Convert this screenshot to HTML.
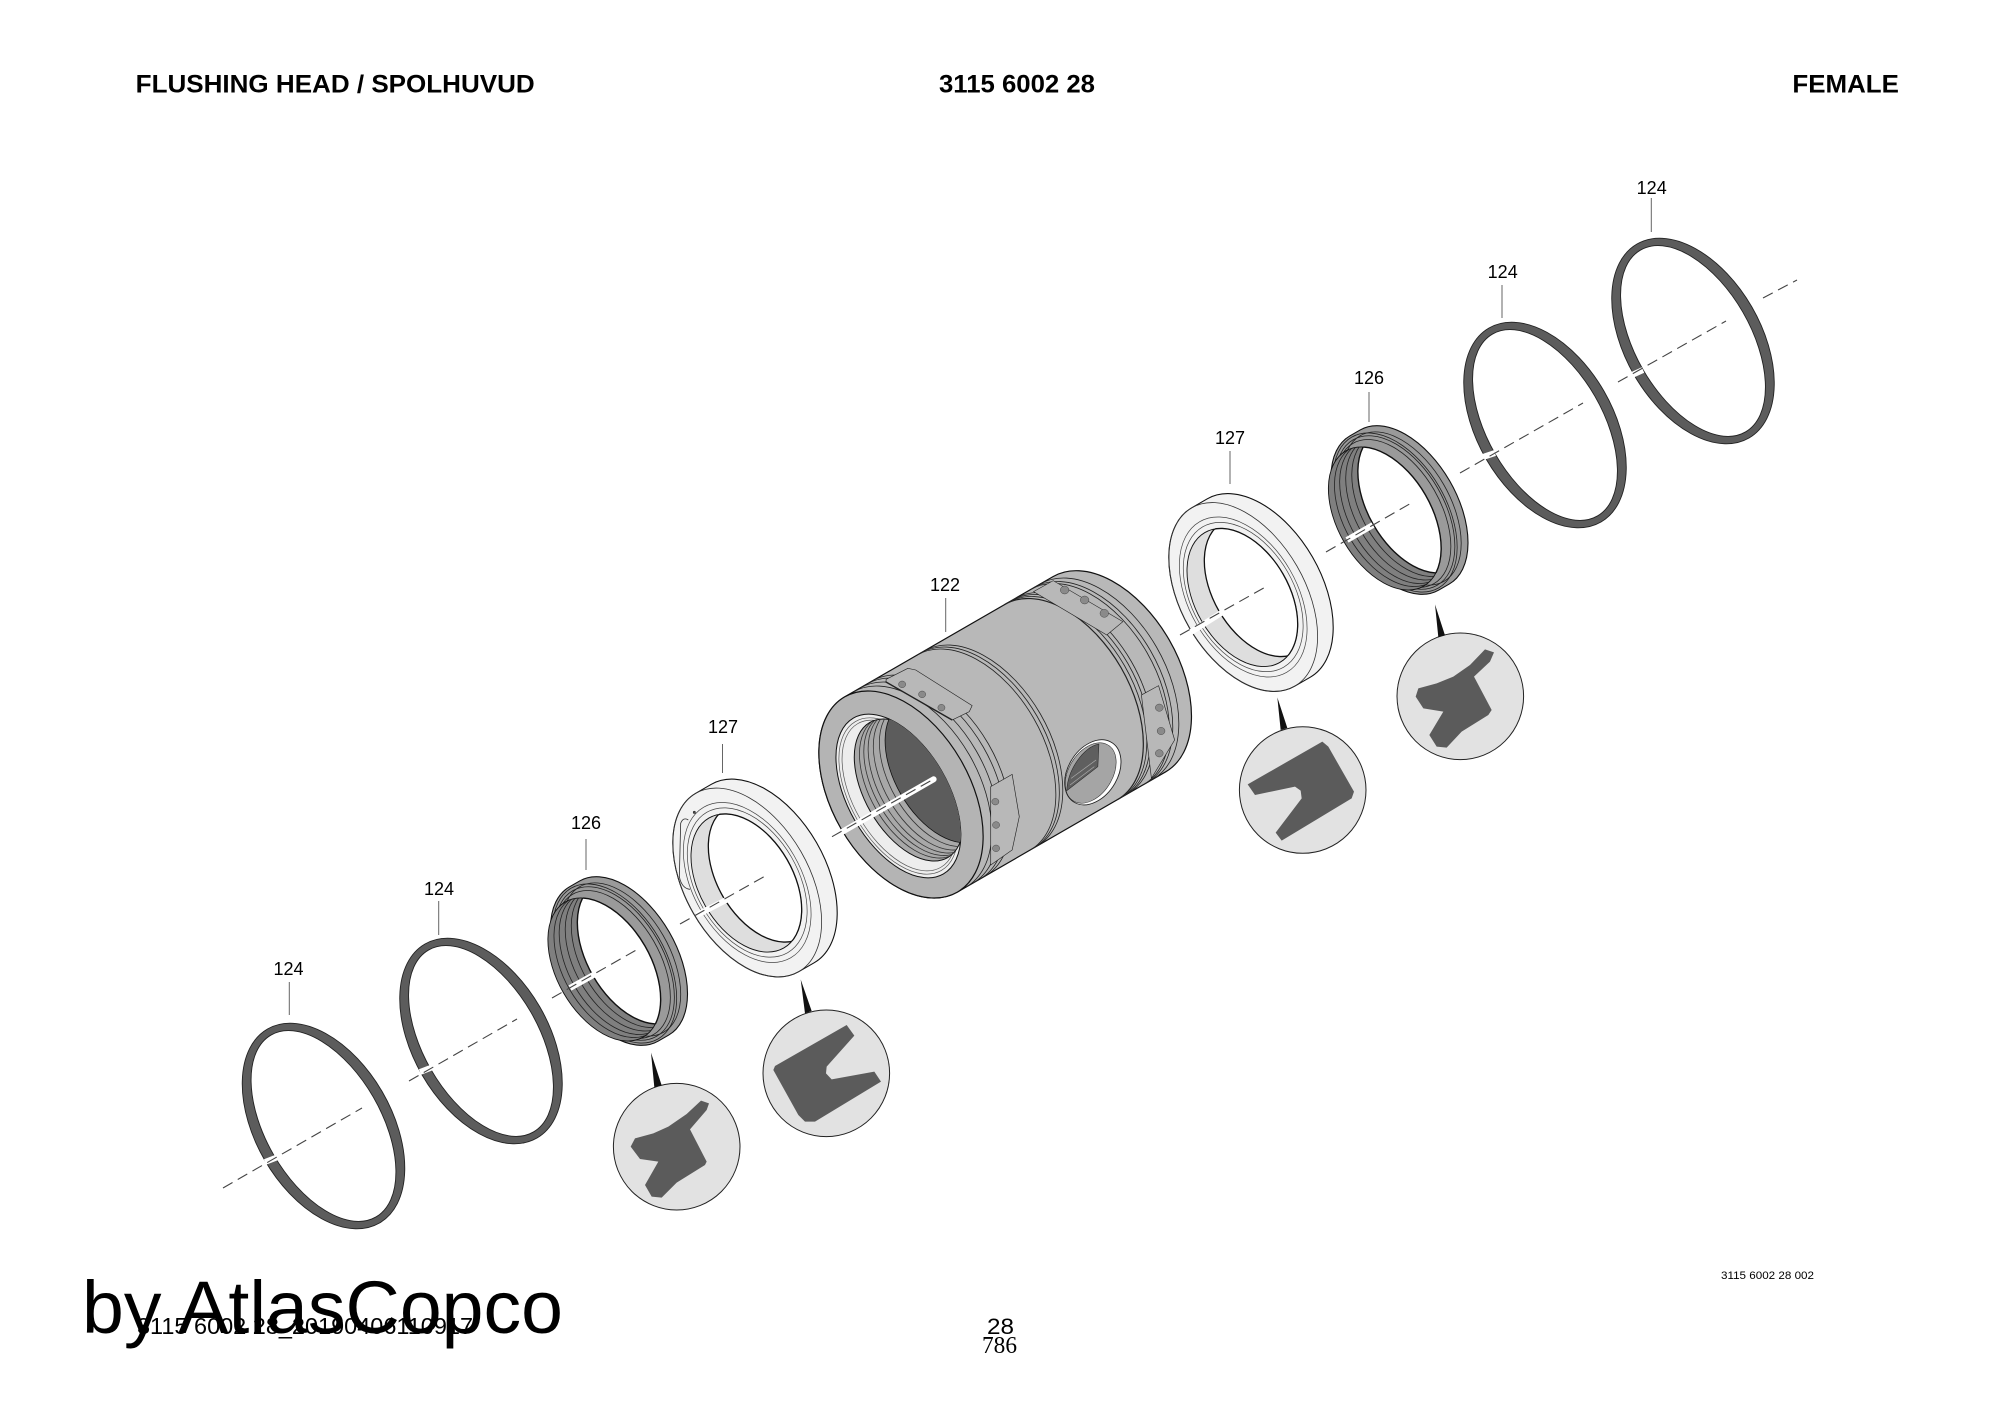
<!DOCTYPE html>
<html><head><meta charset="utf-8"><title>Flushing head</title>
<style>html,body{margin:0;padding:0;background:#fff}svg{display:block}text{font-family:"Liberation Sans",sans-serif;fill:#000}</style>
</head><body>
<svg width="2000" height="1414" viewBox="0 0 2000 1414">
<defs>
<path id="ring" fill-rule="evenodd" fill="#5c5c5c" stroke="#222" stroke-width=".9" d="M-112,0A112,68 0 1 0 112,0A112,68 0 1 0 -112,0Z M-105,0A105,57.6 0 1 0 105,0A105,57.6 0 1 0 -105,0Z"/>
<clipPath id="sf"><ellipse cy="17" rx="78" ry="47"/></clipPath>
<clipPath id="sb"><ellipse cy="-17" rx="78" ry="47"/></clipPath>
<clipPath id="tf"><ellipse cy="10" rx="75" ry="47"/></clipPath>
<clipPath id="tb"><ellipse cy="-10" rx="75" ry="47"/></clipPath>
<clipPath id="bo"><ellipse cy="3" rx="90" ry="50"/></clipPath>
<clipPath id="bi"><ellipse cy="-9" rx="78" ry="44"/></clipPath>
<g id="seal">
<path d="M-89,-6A89,52 0 0 1 89,-6L89,6A89,52 0 0 1 -89,6Z" fill="#9a9a9a" stroke="#111" stroke-width="1.1"/>
<g fill="none" stroke="#222" stroke-width=".8">
<ellipse cy="5" rx="87" ry="51"/><ellipse cy="5" rx="84" ry="49"/><ellipse cy="7" rx="81" ry="47"/>
<ellipse cy="-3" rx="84" ry="48"/>
</g>
<ellipse cy="17" rx="78" ry="47" fill="#7f7f7f" stroke="#111" stroke-width=".9"/>
<g fill="none" stroke="#222" stroke-width=".8" clip-path="url(#sf)">
<ellipse cy="10" rx="78" ry="47"/><ellipse cy="4" rx="78" ry="47"/><ellipse cy="-3" rx="78" ry="47"/><ellipse cy="-10" rx="78" ry="47"/>
</g>
<ellipse cy="-17" rx="78" ry="47" fill="#fff" stroke="#111" stroke-width="1.4" clip-path="url(#sf)"/>
<ellipse cy="17" rx="78" ry="47" fill="none" stroke="#111" stroke-width="1.4" clip-path="url(#sb)"/>
</g>
<g id="lip">
<path d="M-103,-9A103,62 0 0 1 103,-9L103,9A103,62 0 0 1 -103,9Z" fill="#f2f2f2" stroke="#111" stroke-width="1.1"/>
<ellipse cy="9" rx="103" ry="62" fill="none" stroke="#333" stroke-width=".8"/>
<ellipse cy="9" rx="87" ry="54" fill="none" stroke="#444" stroke-width=".7"/>
<ellipse cy="9" rx="81" ry="51" fill="none" stroke="#444" stroke-width=".7"/>
<ellipse cy="10" rx="75" ry="47" fill="#dedede" stroke="#111" stroke-width=".9"/>
<ellipse cy="-10" rx="75" ry="47" fill="#fff" stroke="#111" stroke-width="1.3" clip-path="url(#tf)"/>
<ellipse cy="10" rx="75" ry="47" fill="none" stroke="#111" stroke-width="1.3" clip-path="url(#tb)"/>
</g>
</defs>

<!-- rings -->
<use href="#ring" transform="translate(323.5,1126) rotate(60)"/>
<use href="#ring" transform="translate(481,1041) rotate(60)"/>
<use href="#ring" transform="translate(1545,425) rotate(60)"/>
<use href="#ring" transform="translate(1693,341) rotate(60)"/>
<!-- seals -->
<use href="#seal" transform="translate(619,961) rotate(60)"/>
<use href="#seal" transform="translate(1399.5,510) rotate(60)"/>
<use href="#lip" transform="translate(755,878) rotate(60)"/>
<use href="#lip" transform="translate(1251,592.5) rotate(60)"/>
<g transform="translate(660,760) scale(.3333)" fill="none" stroke="#333" stroke-width="2.5">
<path d="M85,180Q70,170 62,190L58,350Q65,385 90,388"/><circle cx="103" cy="157" r="3" fill="#555"/>
</g>

<!-- body 122 -->
<g transform="translate(901,794.5) rotate(60)">
<path d="M-112.7,-240.6A112.7,69 0 0 1 112.7,-240.6L112.7,0A112.7,69 0 0 1 -112.7,0Z" fill="#b8b8b8" stroke="#111" stroke-width="1.2"/>
<g fill="none" stroke="#222" stroke-width=".8">
<path d="M-112.7,-10A112.7,69 0 0 1 112.7,-10"/><path d="M-112.7,-18A112.7,69 0 0 1 112.7,-18"/>
<path d="M-112.7,-26A112.7,69 0 0 1 112.7,-26"/><path d="M-112.7,-32A112.7,69 0 0 1 112.7,-32"/>
<path d="M-112.7,-84A112.7,69 0 0 1 112.7,-84"/><path d="M-112.7,-88A112.7,69 0 0 1 112.7,-88"/><path d="M-112.7,-92A112.7,69 0 0 1 112.7,-92"/>
<path d="M-112.7,-185A112.7,69 0 0 1 112.7,-185" stroke-width="1.2"/><path d="M-112.7,-189A112.7,69 0 0 1 112.7,-189"/>
<path d="M-112.7,-193A112.7,69 0 0 1 112.7,-193"/><path d="M-112.7,-197A112.7,69 0 0 1 112.7,-197"/>
<path d="M-112.7,-215A112.7,69 0 0 1 112.7,-215"/><path d="M-112.7,-219A112.7,69 0 0 1 112.7,-219"/><path d="M-112.7,-226A112.7,69 0 0 1 112.7,-226"/>
</g>
<ellipse rx="112.7" ry="69" fill="#b4b4b4" stroke="#111" stroke-width="1.2"/>
<ellipse cy="3" rx="90" ry="50" fill="#ededed" stroke="#111" stroke-width="1"/>
<ellipse cy="3" rx="86" ry="47.5" fill="none" stroke="#555" stroke-width=".7"/>
<ellipse cy="2" rx="83" ry="45.5" fill="none" stroke="#555" stroke-width=".7"/>
<g clip-path="url(#bo)">
<ellipse cy="-9" rx="78" ry="44" fill="#a8a8a8" stroke="#111" stroke-width="1"/>
<g fill="none" stroke="#333" stroke-width=".8" clip-path="url(#bi)">
<ellipse cy="-15" rx="78" ry="44"/><ellipse cy="-20" rx="78" ry="44"/><ellipse cy="-25" rx="78" ry="44"/><ellipse cy="-31" rx="78" ry="44"/><ellipse cy="-38" rx="78" ry="44"/>
<ellipse cy="-46" rx="78" ry="46" fill="#5c5c5c" stroke="#111"/>
</g>
</g>
</g>
<g transform="translate(780,540) scale(.35714,.33333)" stroke="#222" stroke-width="2.2">
<!-- windows -->
<path d="M297,418L358,385L380,390L538,497L530,515L482,540L297,425Z" fill="#b8b8b8" stroke-width="1.8"/>
<circle cx="342" cy="433" r="10" fill="#8a8a8a" stroke-width="1"/><circle cx="398" cy="463" r="10" fill="#8a8a8a" stroke-width="1"/><circle cx="452" cy="503" r="10" fill="#8a8a8a" stroke-width="1"/>
<path d="M295,425L482,540" fill="none" stroke-width="4"/>
<path d="M710,155L765,122L960,245L915,285Z" fill="#b8b8b8" stroke-width="1.8"/>
<circle cx="797" cy="150" r="12" fill="#8a8a8a" stroke-width="1"/><circle cx="853" cy="180" r="12" fill="#8a8a8a" stroke-width="1"/><circle cx="908" cy="220" r="12" fill="#8a8a8a" stroke-width="1"/>
<path d="M1012,465L1060,437L1105,600L1040,715Z" fill="#b8b8b8" stroke-width="1.8"/>
<circle cx="1062" cy="503" r="11" fill="#8a8a8a" stroke-width="1"/><circle cx="1067" cy="573" r="11" fill="#8a8a8a" stroke-width="1"/><circle cx="1062" cy="640" r="11" fill="#8a8a8a" stroke-width="1"/>
<path d="M590,740L650,703L670,830L650,930L590,975Z" fill="#b8b8b8" stroke-width="1.8"/>
<circle cx="603" cy="785" r="10" fill="#8a8a8a" stroke-width="1"/><circle cx="605" cy="855" r="10" fill="#8a8a8a" stroke-width="1"/><circle cx="605" cy="925" r="10" fill="#8a8a8a" stroke-width="1"/>
<!-- side hole -->
<ellipse cx="876" cy="697" rx="104" ry="70" transform="rotate(-62 876 697)" fill="#fff" stroke-width="2.5"/>
<ellipse cx="870" cy="699" rx="97" ry="62" transform="rotate(-62 870 699)" fill="#a5a5a5" stroke-width="1.5"/>
<path d="M893,612C850,620 805,690 803,752L890,680Z" fill="#5f5f5f" stroke-width="1.5"/>
<path d="M815,715L885,660M812,735L880,680" fill="none" stroke="#aaa" stroke-width="2"/>
</g>

<!-- circles -->
<g fill="#e2e2e2" stroke="#222" stroke-width="1">
<circle cx="676.7" cy="1146.7" r="63.3"/><circle cx="826.3" cy="1073.3" r="63.3"/>
<circle cx="1302.7" cy="790" r="63.3"/><circle cx="1460.3" cy="696.3" r="63.3"/>
</g>
<g transform="translate(540,860) scale(.33333)" fill="#5b5b5b">
<path fill="#111" d="M333,578L343,682L365,676Z"/><path fill="#111" d="M782,358L795,460L815,453Z"/>
<path d="M483,722L507,730L500,750L450,808L500,905L495,915L410,968L365,1013L335,1010L315,975L355,905L300,897L272,860L285,835L340,820L385,800L440,762Z"/>
<path d="M920,495L943,527L860,620L858,640L875,658L1003,635L1023,665L825,785L795,785L775,765L700,630L705,618Z"/>
</g>
<g transform="translate(1160,420) scale(.33333)" fill="#5b5b5b">
<path fill="#111" d="M352,832L362,930L382,924Z"/><path fill="#111" d="M825,553L835,652L855,646Z"/>
<path d="M487,965L505,980L582,1115L575,1135L365,1262L347,1238L425,1135L422,1112L405,1100L285,1125L263,1093Z"/>
<path d="M975,688L1002,697L990,725L942,770L995,870L985,885L905,935L860,983L830,980L808,945L850,875L790,865L767,830L775,805L830,790L880,770L930,735Z"/>
</g>

<!-- white halos -->
<g stroke="#fff" stroke-width="6" fill="none">
<path d="M265,1162L278,1157M420,1072L433,1067M570,988L597,973M697,915L732,897M1191,632L1226,610M1347,540L1373,525M1483,457L1495,453M1632,375L1643,370"/>
<path d="M842.5,831.7L933.6,779.3" stroke-linecap="round"/>
</g>
<!-- centre line -->
<g stroke="#444" stroke-width="1.1" fill="none" stroke-dasharray="11 6">
<path d="M223,1188L362,1108"/><path d="M409,1081L517,1019"/><path d="M552,998L638,949"/><path d="M680,924L767,875"/>
<path d="M832,836.7L932,780"/><path d="M1180,635L1266,586.7"/><path d="M1326,552L1413,502"/><path d="M1460,473L1583,403"/><path d="M1618,382L1726,321"/><path d="M1763,298L1797,280"/>
</g>
<!-- leaders -->
<g stroke="#666" stroke-width="1" fill="none">
<path d="M289.3,982V1015M438.7,901V935M586,839V870M722.5,744V773M945.7,598V632M1230,451V484M1369,392V422M1502,285V318M1651.3,198V232"/>
</g>
<!-- labels -->
<g font-size="18" text-anchor="middle">
<text x="288.5" y="975">124</text><text x="439" y="895">124</text><text x="586" y="829">126</text><text x="723" y="733">127</text>
<text x="945" y="591">122</text><text x="1230" y="444">127</text><text x="1369" y="384">126</text><text x="1502.7" y="278">124</text><text x="1651.7" y="194">124</text>
</g>
<text x="135.7" y="92.7" font-size="25" font-weight="bold" textLength="399" lengthAdjust="spacingAndGlyphs">FLUSHING HEAD / SPOLHUVUD</text>
<text x="939" y="92.7" font-size="25" font-weight="bold" textLength="156" lengthAdjust="spacingAndGlyphs">3115 6002 28</text>
<text x="1792.4" y="92.7" font-size="25" font-weight="bold" textLength="106.5" lengthAdjust="spacingAndGlyphs">FEMALE</text>
<text x="1721" y="1279" font-size="11" textLength="93" lengthAdjust="spacingAndGlyphs">3115 6002 28 002</text>
<text x="137" y="1334" font-size="23" textLength="336" lengthAdjust="spacingAndGlyphs">3115 6002 28_20190406110917</text>
<text x="82" y="1333" font-size="74.5" textLength="481" lengthAdjust="spacingAndGlyphs">by AtlasCopco</text>
<text x="987" y="1334" font-size="22" textLength="27" lengthAdjust="spacingAndGlyphs">28</text>
<text x="982" y="1353" font-size="24" textLength="35" lengthAdjust="spacingAndGlyphs" style="font-family:'Liberation Serif',serif">786</text>
</svg>
</body></html>
